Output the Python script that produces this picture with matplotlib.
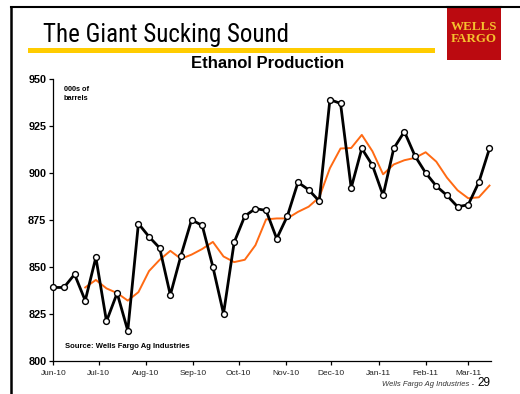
import pandas as pd
import matplotlib.pyplot as plt
import matplotlib.dates as mdates
from matplotlib.lines import Line2D
from matplotlib.patches import Rectangle

# weekly ethanol production, 000s of barrels
production = [839, 839, 846, 832, 855, 821, 836, 816, 873, 866, 860, 835, 856, 875,
              872, 850, 825, 863, 877, 881, 880, 865, 877, 895, 891, 885, 939, 937,
              892, 913, 904, 888, 913, 922, 909, 900, 893, 888, 882, 883, 895, 913]
# four-week average, starts with the fourth week
average = [839, 843, 838.5, 836, 832, 836.5, 847.75, 853.75, 858.5, 854.25, 856.5,
           859.5, 863.25, 855.5, 852.5, 853.75, 861.5, 875.25, 875.75, 875.75, 879.25,
           882, 887, 902.5, 913, 913.25, 920.25, 911.5, 899.25, 904.5, 906.75, 908,
           911, 906, 897.5, 890.75, 886.5, 887, 893.25]
weeks = pd.date_range('2010-06-01', periods=len(production), freq='7D')
y_ticks = [800, 825, 850, 875, 900, 925, 950]

plt.rcParams['font.family'] = ['Liberation Sans', 'DejaVu Sans']

W, H = 520, 394
fig = plt.figure(figsize=(W / 100, H / 100), dpi=100)

# slide frame
fig.add_artist(Line2D([11 / W, 11 / W], [0, 1 - 7 / H], color='black', lw=1.8))
fig.add_artist(Line2D([11 / W, 1], [1 - 7 / H, 1 - 7 / H], color='black', lw=1.5))

# heading and yellow rule
fig.text(43 / W, 1 - 42 / H, 'The Giant Sucking Sound', fontsize=18,
         family=['Roboto Condensed', 'Liberation Sans'], va='baseline')
fig.add_artist(Rectangle((28 / W, 1 - 52.5 / H), 407 / W, 4.3 / H,
                         color='#FFCC00', transform=fig.transFigure, lw=0))

# logo block
fig.add_artist(Rectangle((446.7 / W, 1 - 60 / H), 54.3 / W, 53 / H,
                         color='#BB0A10', transform=fig.transFigure, lw=0))
fig.add_artist(Line2D([446.7 / W, 501 / W], [1 - 7 / H, 1 - 7 / H], color='black', lw=1.5))
fig.text(474 / W, 1 - 33 / H, 'WELLS\nFARGO', color='#F5C12E', fontsize=9.4,
         family=['Liberation Serif'], weight='bold', ha='center', va='center',
         linespacing=0.9)

ax = fig.add_axes([53.3 / W, 1 - 360.7 / H, (491 - 53.3) / W, (360.7 - 79) / H])
ax.plot(weeks[3:], average, color='#FF6A13', lw=1.4, zorder=2)
ax.plot(weeks, production, color='black', lw=2.0, marker='o', ms=4.2,
        mfc='white', mec='black', mew=1.0, zorder=3, clip_on=False)

ax.set_ylim(800, 950)
ax.set_yticks(y_ticks)
ax.set_xlim(pd.Timestamp('2010-06-01'), pd.Timestamp('2011-03-16'))
ax.xaxis.set_major_locator(mdates.MonthLocator())
ax.xaxis.set_major_formatter(mdates.DateFormatter('%b-%y'))
for side in ['top', 'right']:
    ax.spines[side].set_visible(False)
for side in ['left', 'bottom']:
    ax.spines[side].set_linewidth(0.9)
ax.tick_params(axis='y', labelsize=7.8, length=3, width=0.9, pad=2)
ax.tick_params(axis='x', labelsize=6, length=3, width=0.9, pad=4, labelcolor='#222222')
for lbl in ax.get_yticklabels():
    lbl.set_fontweight('bold')

fig.text(268 / W, 1 - 64 / H, 'Ethanol Production', fontsize=12, weight='bold',
         ha='center', va='center')
ax.text(0.024, 0.975, '000s of\nbarrels', transform=ax.transAxes, fontsize=5.3,
        weight='bold', ha='left', va='top', linespacing=1.3)
ax.text(0.027, 0.05, 'Source: Wells Fargo Ag Industries', transform=ax.transAxes,
        fontsize=5.5, weight='bold', ha='left', va='center')

# footer
fig.text(476 / W, 1 - 386 / H, 'Wells Fargo Ag Industries - ', fontsize=5.5,
         style='italic', color='#333333', ha='right', va='baseline')
fig.text(490 / W, 1 - 386 / H, '29', fontsize=8.5, ha='right', va='baseline')

fig.savefig('out.png', dpi=100)
